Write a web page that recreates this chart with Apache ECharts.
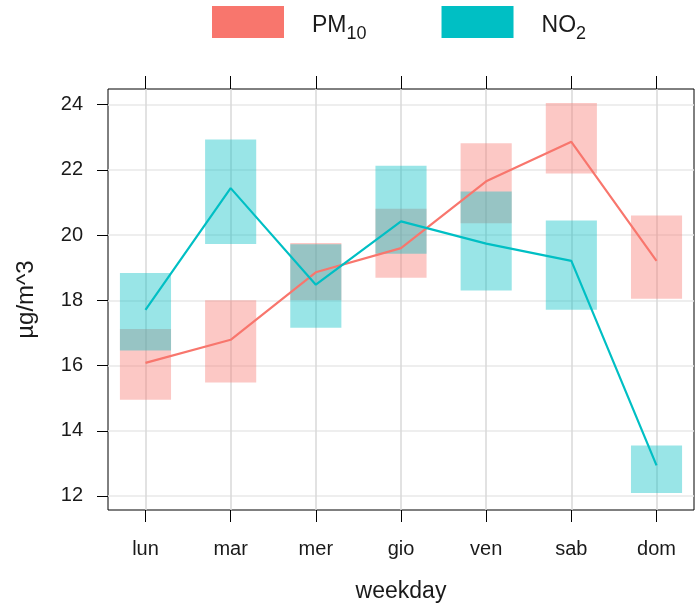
<!DOCTYPE html>
<html>
<head>
<meta charset="utf-8">
<script src="https://cdn.jsdelivr.net/npm/echarts@6/dist/echarts.min.js"></script>
<style>
html, body { margin: 0; padding: 0; background: #fff; }
#weekChart { width: 695px; height: 604px; }
</style>
</head>
<body>
<div id="weekChart"></div>
<script>
// weekday categories and y ticks
var days = ['lun', 'mar', 'mer', 'gio', 'ven', 'sab', 'dom'];
var yTicks = [12, 14, 16, 18, 20, 22, 24];

// PM10: mean line and interval box (low / high)
var pm10Mean = [16.08, 16.79, 18.86, 19.60, 21.65, 22.86, 19.21];
var pm10Low = [14.95, 15.48, 18.00, 18.69, 20.36, 21.89, 18.05];
var pm10High = [17.12, 18.00, 19.76, 20.81, 22.82, 24.05, 20.60];

// NO2
var no2Mean = [17.71, 21.44, 18.48, 20.42, 19.74, 19.21, 12.94];
var no2Low = [16.46, 19.73, 17.16, 19.43, 18.30, 17.71, 12.09];
var no2High = [18.84, 22.93, 19.72, 22.13, 21.34, 20.45, 13.55];

var dayIdx = days.map(function (d, i) { return i + 1; });

function toLine(vals) {
  return vals.map(function (v, i) { return [dayIdx[i], v]; });
}
function toBox(lo, hi) {
  return lo.map(function (v, i) { return [dayIdx[i], v, hi[i]]; });
}

function boxItem(fill) {
  return function (params, api) {
    var top = api.coord([api.value(0), api.value(2)]);
    var bot = api.coord([api.value(0), api.value(1)]);
    var w = api.size([0.6, 0])[0];
    return {
      type: 'rect',
      shape: { x: top[0] - w / 2, y: top[1], width: w, height: bot[1] - top[1] },
      style: { fill: fill }
    };
  };
}

var chart = echarts.init(document.getElementById('weekChart'));
var txt = '#1a1a1a';
var fam = 'Liberation Sans, Arial, sans-serif';

chart.setOption({
  animation: false,
  textStyle: { fontFamily: fam },
  legend: {
    left: 212,
    top: 6,
    padding: 0,
    itemWidth: 72,
    itemHeight: 32,
    itemGap: 75,
    icon: 'rect',
    data: [
      { name: 'PM10', itemStyle: { color: '#F8766D' } },
      { name: 'NO2', itemStyle: { color: '#00BFC4' } }
    ],
    formatter: function (name) {
      return name === 'PM10' ? '{m|PM}{s|10}' : '{m|NO}{s|2}';
    },
    textStyle: {
      padding: [0, 0, 0, 23],
      rich: {
        m: { fontSize: 23, color: txt, fontFamily: fam, verticalAlign: 'top', lineHeight: 24, padding: [4, 0, 0, 0] },
        s: { fontSize: 18, color: txt, fontFamily: fam, verticalAlign: 'top', lineHeight: 18, padding: [15, 0, 0, 0] }
      }
    }
  },
  grid: {
    left: 108,
    right: 1,
    top: 89,
    bottom: 94,
    outerBoundsMode: 'none',
    show: true,
    borderColor: '#000',
    borderWidth: 1
  },
  xAxis: [{
    type: 'value',
    position: 'bottom',
    min: 0.56,
    max: 7.44,
    name: 'weekday',
    nameLocation: 'middle',
    nameGap: 70,
    nameTextStyle: { fontSize: 23, color: txt },
    axisLine: { show: false },
    axisTick: { show: true, length: 12, customValues: dayIdx, lineStyle: { color: '#000', width: 1 } },
    axisLabel: {
      customValues: dayIdx,
      margin: 29,
      fontSize: 20,
      color: txt,
      formatter: function (v) { return days[v - 1]; }
    },
    splitLine: { show: true, lineStyle: { color: '#d9d9d9', width: 1.5 } }
  }, {
    type: 'value',
    position: 'top',
    min: 0.56,
    max: 7.44,
    axisLine: { show: false },
    axisTick: { show: true, length: 13, customValues: dayIdx, lineStyle: { color: '#000', width: 1 } },
    axisLabel: { show: false },
    splitLine: { show: false }
  }],
  yAxis: {
    type: 'value',
    min: 11.57,
    max: 24.48,
    name: 'µg/m^3',
    nameLocation: 'middle',
    nameGap: 70,
    nameRotate: 90,
    nameTextStyle: { fontSize: 24, color: txt },
    axisLine: { show: false },
    axisTick: { show: true, length: 11, customValues: yTicks, lineStyle: { color: '#000', width: 1 } },
    axisLabel: { customValues: yTicks, margin: 25, fontSize: 20, color: txt },
    splitLine: { show: true, lineStyle: { color: '#e9e9e9', width: 1.5 } }
  },
  series: [{
    name: 'PM10 box',
    type: 'custom',
    renderItem: boxItem('rgba(248,118,109,0.4)'),
    data: toBox(pm10Low, pm10High)
  }, {
    name: 'PM10',
    type: 'line',
    symbol: 'none',
    lineStyle: { color: '#F8766D', width: 2.2 },
    itemStyle: { color: '#F8766D' },
    data: toLine(pm10Mean)
  }, {
    name: 'NO2 box',
    type: 'custom',
    renderItem: boxItem('rgba(0,191,196,0.4)'),
    data: toBox(no2Low, no2High)
  }, {
    name: 'NO2',
    type: 'line',
    symbol: 'none',
    lineStyle: { color: '#00BFC4', width: 2.2 },
    itemStyle: { color: '#00BFC4' },
    data: toLine(no2Mean)
  }]
});
</script>
</body>
</html>
